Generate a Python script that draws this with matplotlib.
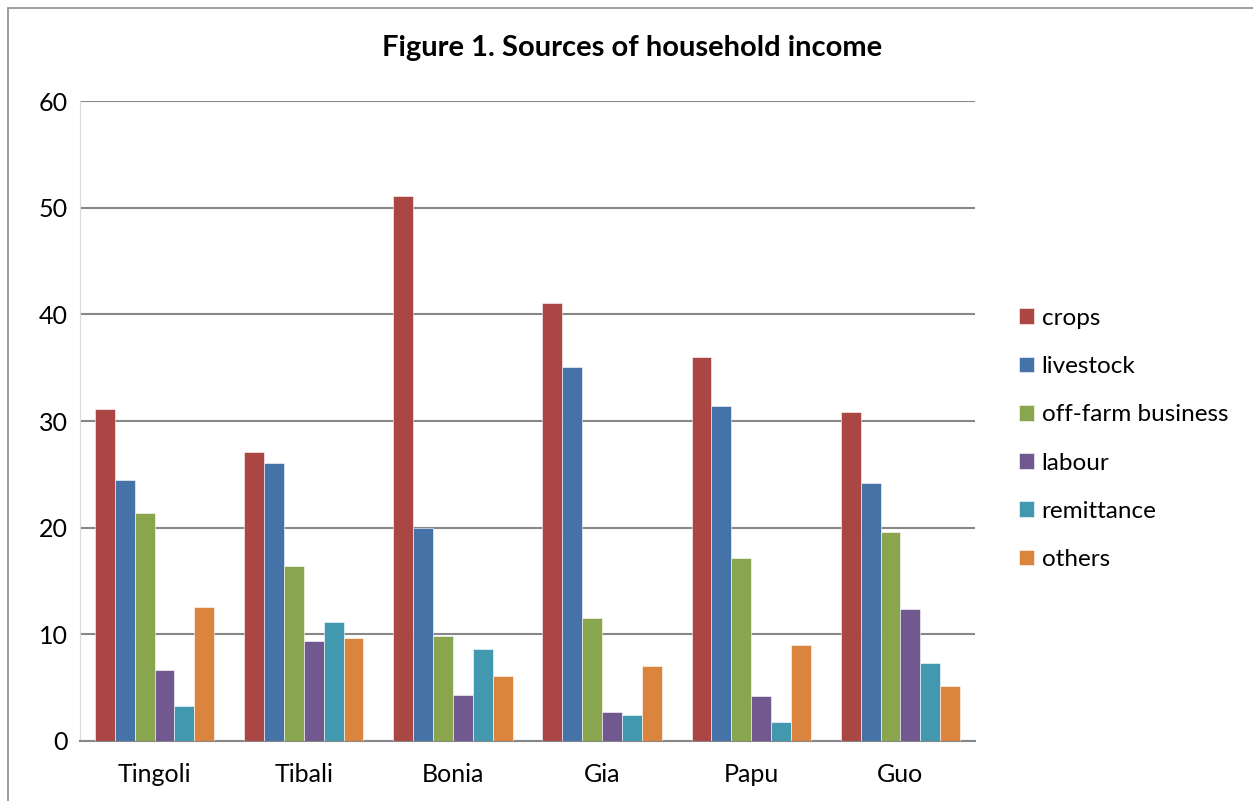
import matplotlib.pyplot as plt
import numpy as np
from matplotlib.patches import Rectangle

plt.rcParams['font.family'] = ['Lato', 'DejaVu Sans']

villages = ['Tingoli', 'Tibali', 'Bonia', 'Gia', 'Papu', 'Guo']
sources = ['crops', 'livestock', 'off-farm business', 'labour', 'remittance', 'others']

crops = [31.1, 27.1, 51.1, 41.1, 36.0, 30.8]
livestock = [24.5, 26.1, 20.0, 35.1, 31.4, 24.2]
off_farm = [21.4, 16.4, 9.8, 11.5, 17.2, 19.6]
labour = [6.7, 9.4, 4.3, 2.7, 4.2, 12.4]
remittance = [3.3, 11.2, 8.6, 2.4, 1.8, 7.3]
others = [12.6, 9.7, 6.1, 7.0, 9.0, 5.2]

series = [crops, livestock, off_farm, labour, remittance, others]
colors = ['#AA4643', '#4572A7', '#89A54E', '#71588F', '#4198AF', '#DB843D']

fig = plt.figure(figsize=(12.53, 8.01), dpi=100)
ax = fig.add_axes([80/1253, 60/801, 895/1253, 640/801])

x = np.arange(len(villages))
w = 0.8/6
for i, (vals, c) in enumerate(zip(series, colors)):
    ax.bar(x - 0.4 + w*(i+0.5), vals, w, color=c, label=sources[i],
           edgecolor='white', linewidth=0.4, zorder=3)

ax.set_xlim(-0.5, 5.5)
ax.set_ylim(0, 60)
ax.set_yticks(range(0, 61, 10))
ax.set_xticks(x)
ax.set_xticklabels(villages)
ax.yaxis.grid(True, color='#878787', linewidth=1.5, zorder=0)
ax.tick_params(axis='both', length=0, labelsize=18, colors='black')
ax.tick_params(axis='y', pad=9)
ax.tick_params(axis='x', pad=16)
for s in ['top', 'right']:
    ax.spines[s].set_visible(False)
ax.spines['left'].set_color('#d9d9d9')
ax.spines['bottom'].set_color('#878787')
ax.spines['bottom'].set_linewidth(1.5)

fig.text(632/1253, 1 - 48/801, 'Figure 1. Sources of household income',
         ha='center', va='center', fontsize=21, fontweight='bold')

ax.legend(loc='center left', bbox_to_anchor=(1.025, 0.472), frameon=False,
          fontsize=17.5, handlelength=0.62, handleheight=0.62,
          labelspacing=1.12, handletextpad=0.3)

fig.patches.append(Rectangle((8/1253, -0.1), 1.2, 1 - 8/801 + 0.1,
                             transform=fig.transFigure, fill=False,
                             edgecolor='#8c8c8c', linewidth=1.2))

fig.savefig('out.png', dpi=100)
